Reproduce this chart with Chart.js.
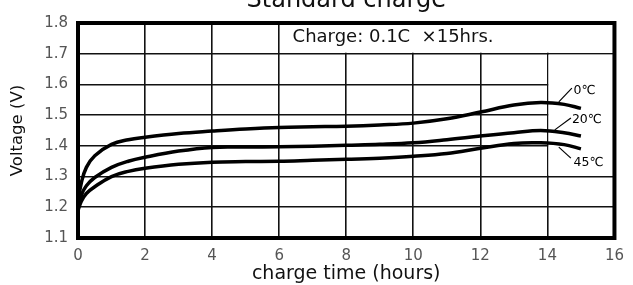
<!DOCTYPE html>
<html>
<head>
<meta charset="utf-8">
<script src="https://cdn.jsdelivr.net/npm/chart.js@4/dist/chart.umd.min.js"></script>
<style>
  html, body { margin: 0; padding: 0; background: #fff; overflow: hidden; }
  #wrap { position: absolute; left: 0; top: -14px; width: 633px; height: 299px; }
</style>
</head>
<body>
<div id="wrap"><canvas id="chargeChart"></canvas></div>
<script>
// charge time (hours) sample points
const hours = [0, 0.1, 0.25, 0.5, 1, 1.5, 2, 3, 4, 5, 6, 7, 8, 9, 10, 11, 12, 13, 13.8, 14.5, 15]
// voltage curves per temperature
const volt0 = [1.22, 1.28, 1.33, 1.368, 1.405, 1.42, 1.428, 1.44, 1.448, 1.455, 1.46, 1.462, 1.464, 1.468, 1.474, 1.488, 1.51, 1.533, 1.541, 1.535, 1.522]
const volt20 = [1.2, 1.24, 1.27, 1.297, 1.33, 1.35, 1.363, 1.383, 1.395, 1.396, 1.397, 1.399, 1.402, 1.405, 1.41, 1.42, 1.432, 1.443, 1.45, 1.443, 1.432]
const volt45 = [1.19, 1.22, 1.245, 1.267, 1.3, 1.317, 1.327, 1.34, 1.347, 1.349, 1.35, 1.353, 1.356, 1.36, 1.366, 1.375, 1.392, 1.408, 1.41, 1.404, 1.39]
const seriesNames = ['0℃', '20℃', '45℃']
// leader line [fromX, fromY, toX, toY] and text anchor [x, y] in data units
const leaderLines = [[14.34, 1.543, 14.73, 1.588], [14.22, 1.452, 14.7, 1.491], [14.34, 1.396, 14.7, 1.36]]
const labelSpots = [[14.78, 1.58], [14.73, 1.486], [14.78, 1.345]]
const yTicks = ['1.1', '1.2', '1.3', '1.4', '1.5', '1.6', '1.7', '1.8']
const noteText = 'Charge: 0.1C  ×15hrs.'

const sheetPlugin = {
  id: 'sheet',
  beforeDatasetsDraw(chart) {
    const ctx = chart.ctx
    const x = chart.scales.x, y = chart.scales.y
    ctx.save()
    ctx.fillStyle = '#fff'
    // note box at the top right
    ctx.fillRect(x.getPixelForValue(6) + 1, y.getPixelForValue(1.8), x.getPixelForValue(16) - x.getPixelForValue(6) - 1, y.getPixelForValue(1.7) - y.getPixelForValue(1.8) - 1)
    // blank space for the curve labels
    ctx.fillRect(x.getPixelForValue(14) + 1, y.getPixelForValue(1.7) + 1, x.getPixelForValue(16) - x.getPixelForValue(14) - 1, y.getPixelForValue(1.3) - y.getPixelForValue(1.7) - 2)
    ctx.fillStyle = '#111'
    ctx.font = '18px "DejaVu Sans", sans-serif'
    ctx.textBaseline = 'middle'
    ctx.fillText(noteText, x.getPixelForValue(6.4), y.getPixelForValue(1.752))
    ctx.restore()
  },
  afterDatasetsDraw(chart) {
    const ctx = chart.ctx
    const x = chart.scales.x, y = chart.scales.y
    const a = chart.chartArea
    ctx.save()
    ctx.strokeStyle = '#000'
    ctx.lineWidth = 1.2
    leaderLines.forEach(l => {
      ctx.beginPath()
      ctx.moveTo(x.getPixelForValue(l[0]), y.getPixelForValue(l[1]))
      ctx.lineTo(x.getPixelForValue(l[2]), y.getPixelForValue(l[3]))
      ctx.stroke()
    })
    ctx.fillStyle = '#000'
    ctx.font = '12.5px "DejaVu Sans", sans-serif'
    ctx.textBaseline = 'middle'
    seriesNames.forEach((n, i) => {
      ctx.fillText(n, x.getPixelForValue(labelSpots[i][0]), y.getPixelForValue(labelSpots[i][1]))
    })
    // heavy frame
    ctx.lineWidth = 4
    ctx.strokeRect(a.left, a.top, a.right - a.left, a.bottom - a.top)
    ctx.restore()
  }
}

function makeSet(name, values) {
  return {
    label: name,
    data: hours.map((h, i) => ({ x: h, y: values[i] })),
    borderColor: '#000',
    borderWidth: 3.5,
    pointRadius: 0,
    fill: false,
    tension: 0.4
  }
}

const ctx = document.getElementById('chargeChart').getContext('2d')
const chargeChart = new Chart(ctx, {
  type: 'line',
  data: {
    datasets: [makeSet(seriesNames[0], volt0), makeSet(seriesNames[1], volt20), makeSet(seriesNames[2], volt45)]
  },
  options: {
    responsive: true,
    maintainAspectRatio: false,
    animation: false,
    layout: { padding: { left: 0, right: 12, top: 0, bottom: 0 } },
    plugins: {
      legend: { display: false },
      tooltip: { enabled: false },
      title: {
        display: true,
        text: 'Standard charge',
        fullSize: false,
        color: '#111',
        font: { family: '"DejaVu Sans", sans-serif', size: 24, weight: 'normal' },
        padding: { top: 0, bottom: 8.2 }
      }
    },
    scales: {
      x: {
        type: 'linear',
        min: 0,
        max: 16,
        afterFit(scale) { scale.height = 47 },
        ticks: { stepSize: 2, color: '#555', padding: 9, font: { family: '"DejaVu Sans", sans-serif', size: 15 } },
        grid: { color: '#111', lineWidth: 1.6, drawTicks: false },
        border: { color: '#000', width: 4 },
        title: {
          display: true,
          text: 'charge time (hours)',
          color: '#111',
          padding: { top: 0, bottom: 0 },
          font: { family: '"DejaVu Sans", sans-serif', size: 19 }
        }
      },
      y: {
        min: 1.1,
        max: 1.8,
        afterFit(scale) { scale.width = 78 },
        ticks: {
          stepSize: 0.1,
          color: '#555',
          padding: 10,
          font: { family: '"DejaVu Sans", sans-serif', size: 15 },
          callback: (v) => yTicks.find(t => Math.abs(Number(t) - v) < 1e-6) || ''
        },
        grid: { color: '#111', lineWidth: 1.6, drawTicks: false },
        border: { color: '#000', width: 4 },
        title: {
          display: true,
          text: 'Voltage (V)',
          color: '#111',
          padding: { top: 8, bottom: 0 },
          font: { family: '"DejaVu Sans", sans-serif', size: 16.5 }
        }
      }
    }
  },
  plugins: [sheetPlugin]
})
</script>
</body>
</html>
